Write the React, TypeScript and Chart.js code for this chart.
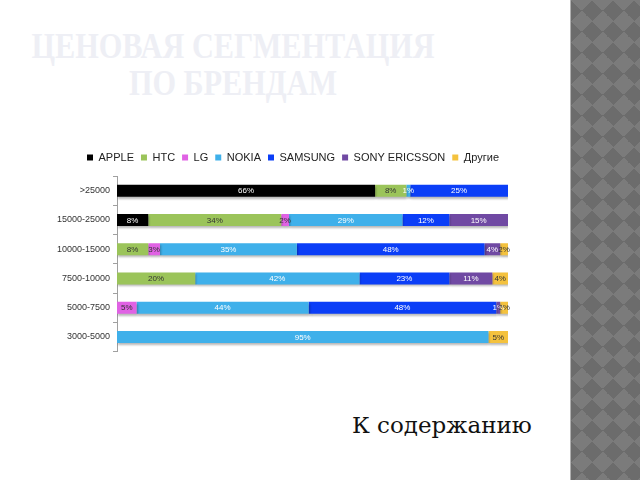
import React, { useEffect, useRef } from "react";
import { Chart, registerables } from "chart.js";

Chart.register(...registerables);

const categories = [">25000", "15000-25000", "10000-15000", "7500-10000", "5000-7500", "3000-5000"];
const brands = ["APPLE", "HTC", "LG", "NOKIA", "SAMSUNG", "SONY ERICSSON", "Другие"];
const apple = [66, 8, 0, 0, 0, 0];
const htc = [8, 34, 8, 20, 0, 0];
const lg = [0, 2, 3, 0, 5, 0];
const nokia = [1, 29, 35, 42, 44, 95];
const samsung = [25, 12, 48, 23, 48, 0];
const sony = [0, 15, 4, 11, 1, 0];
const others = [0, 0, 2, 4, 2, 5];
const brandColors = ["#000000", "#9bc45a", "#e062e4", "#3fb0ea", "#0b3ef7", "#7049a3", "#f4c23e"];
const labelColors = ["#ffffff", "#333333", "#333333", "#ffffff", "#ffffff", "#ffffff", "#333333"];

const title1 = "ЦЕНОВАЯ СЕГМЕНТАЦИЯ";
const title2 = "ПО БРЕНДАМ";
const linkText = "К содержанию";

const labelPlugin = {
  id: "segLabels",
  afterDatasetsDraw(chart: any) {
    const ctx = chart.ctx;
    ctx.save();
    ctx.shadowColor = "transparent";
    ctx.font = "8px 'Liberation Sans', Arial, sans-serif";
    ctx.textAlign = "center";
    ctx.textBaseline = "middle";
    chart.data.datasets.forEach((ds: any, di: number) => {
      const meta = chart.getDatasetMeta(di);
      meta.data.forEach((bar: any, i: number) => {
        const v = ds.data[i];
        if (!v) return;
        const p = bar.getProps(["x", "y", "base"], true);
        const cx = (p.x + p.base) / 2;
        ctx.fillStyle = labelColors[di];
        ctx.fillText(v + "%", cx, p.y + 0.5);
      });
    });
    ctx.restore();
  },
};

const shadowPlugin = {
  id: "barShadow",
  beforeInit(chart: any) {
    const lgd = chart.legend;
    if (lgd && !lgd.__patched) {
      const origFit = lgd.fit;
      lgd.fit = function () {
        origFit.call(this);
        this.height += 3;
      };
      const origDraw = lgd.draw;
      lgd.draw = function (...args: any[]) {
        const c = this.ctx;
        c.save();
        c.translate(19, 0);
        origDraw.apply(this, args);
        c.restore();
      };
      lgd.__patched = true;
    }
  },
  beforeDatasetsDraw(chart: any) {
    const ctx = chart.ctx;
    ctx.save();
    ctx.shadowColor = "rgba(0,0,0,0.28)";
    ctx.shadowBlur = 2;
    ctx.shadowOffsetX = 1;
    ctx.shadowOffsetY = 2;
  },
  afterDatasetsDraw(chart: any) {
    chart.ctx.restore();
  },
};

export default function App() {
  const ref = useRef<HTMLCanvasElement | null>(null);
  useEffect(() => {
    document.body.style.margin = "0";
    const series = [apple, htc, lg, nokia, samsung, sony, others];
    const chart = new Chart(ref.current as HTMLCanvasElement, {
      type: "bar",
      data: {
        labels: categories,
        datasets: brands.map((b, i) => ({
          label: b,
          data: series[i],
          backgroundColor: brandColors[i],
          borderWidth: 0,
          barPercentage: 0.41,
          categoryPercentage: 1,
        })),
      },
      options: {
        indexAxis: "y",
        animation: false,
        responsive: false,
        devicePixelRatio: 1,
        layout: { padding: { top: 5, right: 22, bottom: 6, left: 0 } },
        plugins: {
          legend: {
            display: true,
            position: "top",
            labels: {
              boxWidth: 6,
              boxHeight: 6,
              padding: 7,
              color: "#222222",
              font: { family: "'Liberation Sans', Arial, sans-serif", size: 11 },
            },
          },
          tooltip: { enabled: false },
        },
        scales: {
          x: { stacked: true, min: 0, max: 100, display: false },
          y: {
            stacked: true,
            afterFit(scale: any) {
              scale.width = 77;
            },
            border: { display: true, color: "#a0a0a0", width: 1 },
            grid: { display: true, drawOnChartArea: false, offset: true, tickLength: 4, color: "#a0a0a0" },
            ticks: {
              color: "#333333",
              padding: 3,
              font: { family: "'Liberation Sans', Arial, sans-serif", size: 9 },
            },
          },
        },
      },
      plugins: [shadowPlugin, labelPlugin],
    } as any);
    return () => chart.destroy();
  }, []);

  return (
    <div style={{ position: "relative", width: 640, height: 480, background: "#ffffff", overflow: "hidden" }}>
      <div
        style={{
          position: "absolute",
          left: 0,
          top: 28,
          width: 466,
          textAlign: "center",
          fontFamily: "'Liberation Serif', 'DejaVu Serif', serif",
          fontWeight: "bold",
          fontSize: 35,
          lineHeight: "37px",
          color: "#eeeff5",
          transform: "scaleX(0.865)",
          transformOrigin: "233px 0",
          whiteSpace: "nowrap",
        }}
      >
        <div>{title1}</div>
        <div>{title2}</div>
      </div>
      <canvas
        ref={ref}
        width={490}
        height={220}
        style={{ position: "absolute", left: 40, top: 140, width: 490, height: 220 }}
      />
      <div
        style={{
          position: "absolute",
          left: 352,
          top: 412,
          fontFamily: "'DejaVu Serif', serif",
          fontSize: 23,
          color: "#111111",
          whiteSpace: "nowrap",
        }}
      >
        {linkText}
      </div>
      <div
        style={{
          position: "absolute",
          left: 570,
          top: 0,
          width: 70,
          height: 480,
          borderLeft: "1px solid #b0b0b0",
          background: "conic-gradient(from 45deg, #6c6c6c 0 90deg, #7b7b7b 0 180deg, #6c6c6c 0 270deg, #7b7b7b 0 360deg)",
          backgroundSize: "21px 21px",
          backgroundPosition: "0 0",
        }}
      />
    </div>
  );
}
